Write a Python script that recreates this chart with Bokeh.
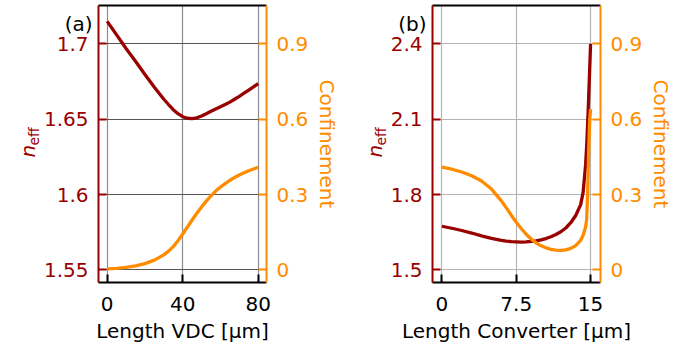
import math
from bokeh.plotting import figure
from bokeh.models import Range1d, LinearAxis, FixedTicker, Label
from bokeh.layouts import row
from bokeh.embed import file_html
from bokeh.resources import INLINE

# ---------------- data ----------------
# Panel (a): vertical directional coupler (VDC)
len_vdc = [0, 5, 10, 15, 20, 25, 30, 32.5, 35, 37.5, 40, 42.5, 45, 47.5, 50,
           52.5, 55, 57.5, 60, 62.5, 65, 67.5, 70, 72.5, 75, 77.5, 80]
neff_vdc = [1.715, 1.706, 1.697, 1.6885, 1.6797, 1.6713, 1.6633, 1.6598,
            1.6564, 1.6537, 1.6517, 1.6507, 1.6505, 1.6510, 1.6522, 1.6537,
            1.6553, 1.6568, 1.6583, 1.6598, 1.6614, 1.6633, 1.6652, 1.6673,
            1.6694, 1.6715, 1.6737]
conf_vdc = [0.004, 0.006, 0.010, 0.016, 0.025, 0.039, 0.060, 0.075, 0.093,
            0.116, 0.143, 0.171, 0.199, 0.226, 0.251, 0.274, 0.295, 0.314,
            0.330, 0.344, 0.357, 0.368, 0.378, 0.387, 0.395, 0.402, 0.409]

# Panel (b): converter
len_conv = [0, 1, 2, 3, 4, 5, 6, 6.5, 7, 7.5, 8, 8.5, 9, 9.5, 10, 10.5, 11,
            11.5, 12, 12.5, 13, 13.5, 14, 14.25, 14.5, 14.6, 14.7, 14.8,
            14.9, 15]
neff_conv = [1.674, 1.666, 1.657, 1.647, 1.636, 1.626, 1.618, 1.615, 1.613,
             1.612, 1.611, 1.612, 1.614, 1.616, 1.620, 1.625, 1.632, 1.641,
             1.652, 1.667, 1.688, 1.717, 1.760, 1.81, 1.92, 1.99, 2.08, 2.18,
             2.29, 2.40]
conf_conv = [0.409, 0.401, 0.390, 0.375, 0.354, 0.322, 0.275, 0.247, 0.218,
             0.19, 0.165, 0.142, 0.123, 0.108, 0.096, 0.088, 0.082, 0.079,
             0.078, 0.080, 0.086, 0.097, 0.118, 0.138, 0.172, 0.20, 0.30,
             0.46, 0.59, 0.64]

# ticks
xticks_a = [0, 40, 80]
xlabels_a = ["0", "40", "80"]
yticks_a = [1.55, 1.6, 1.65, 1.7]
ylabels_a = ["1.55", "1.6", "1.65", "1.7"]
xticks_b = [0, 7.5, 15]
xlabels_b = ["0", "7.5", "15"]
yticks_b = [1.5, 1.8, 2.1, 2.4]
ylabels_b = ["1.5", "1.8", "2.1", "2.4"]
cticks = [0, 0.3, 0.6, 0.9]
clabels = ["0", "0.3", "0.6", "0.9"]

RED = "#990000"
ORANGE = "#ff8c00"
FONT = "DejaVu Sans"
FS = "20px"
FRAME_W = 168
FRAME_H = 277
TOP = 5


def style_axis(ax, color, ticks, labels, standoff):
    ax.ticker = FixedTicker(ticks=ticks)
    ax.major_label_overrides = {t: s for t, s in zip(ticks, labels)}
    ax.axis_line_color = color
    ax.axis_line_width = 2
    ax.major_tick_line_color = color
    ax.major_tick_line_width = 2
    ax.major_tick_in = 8
    ax.major_tick_out = 0
    ax.minor_tick_line_color = None
    ax.major_label_text_color = color
    ax.major_label_text_font = FONT
    ax.major_label_text_font_size = FS
    ax.major_label_standoff = standoff
    ax.axis_label_text_font = FONT
    ax.axis_label_text_font_size = FS
    ax.axis_label_text_font_style = "normal"
    ax.axis_label_text_color = color


def make_panel(xs, neff, conf, xr, yr_left, yr_conf, xt, xl, yt, yl,
               xlabel, tag, n_px, tag_px, dark_grid):
    # helpers converting offsets (px from frame left / top) into data units
    def dx(px):
        return xr[0] + px * (xr[1] - xr[0]) / FRAME_W

    def dy(py):
        return yr_left[1] - py * (yr_left[1] - yr_left[0]) / FRAME_H

    p = figure(frame_width=FRAME_W, frame_height=FRAME_H,
               output_backend="svg", toolbar_location=None,
               x_range=Range1d(*xr), y_range=Range1d(*yr_left),
               min_border_left=0, min_border_right=79,
               min_border_top=TOP, min_border_bottom=0)
    p.extra_y_ranges = {"conf": Range1d(*yr_conf)}
    p.outline_line_color = None
    p.background_fill_color = "white"
    p.border_fill_color = None

    style_axis(p.xaxis[0], "black", xt, xl, 14)
    p.xaxis[0].axis_label = xlabel
    p.xaxis[0].axis_label_standoff = 5

    style_axis(p.yaxis[0], RED, yt, yl, 10)

    right = LinearAxis(y_range_name="conf")
    style_axis(right, ORANGE, cticks, clabels, 10)
    right.axis_label = "Confinement"
    right.axis_label_standoff = 4
    p.add_layout(right, "right")

    top = LinearAxis(ticker=FixedTicker(ticks=[]))
    top.axis_line_color = "black"
    top.axis_line_width = 2
    top.major_tick_line_color = None
    top.minor_tick_line_color = None
    top.major_label_text_font_size = "0px"
    top.major_label_standoff = 0
    p.add_layout(top, "above")

    p.xgrid.ticker = FixedTicker(ticks=xt)
    p.ygrid.ticker = FixedTicker(ticks=yt)
    if dark_grid:
        p.xgrid.grid_line_color = "#8c8c8c"
        p.ygrid.grid_line_color = "#555555"
    else:
        p.xgrid.grid_line_color = "#b4b4b4"
        p.ygrid.grid_line_color = "#b4b4b4"
    p.xgrid.grid_line_width = 1.2
    p.ygrid.grid_line_width = 1.2

    p.line(xs, neff, line_color=RED, line_width=3.3)
    p.line(xs, conf, line_color=ORANGE, line_width=3.3, y_range_name="conf")

    # y-axis label n_eff (italic n with subscript eff), rotated; placed in
    # the left side panel so that it is not clipped to the frame
    p.add_layout(Label(x=dx(n_px), y=dy(157 - TOP),
                       text="n", angle=math.pi / 2, text_color=RED,
                       text_font=FONT, text_font_size="20px",
                       text_font_style="italic", text_align="left",
                       text_baseline="alphabetic"), "left")
    p.add_layout(Label(x=dx(n_px + 6), y=dy(145 - TOP),
                       text="eff", angle=math.pi / 2, text_color=RED,
                       text_font=FONT, text_font_size="14px",
                       text_align="left", text_baseline="alphabetic"), "left")
    p.add_layout(Label(x=dx(tag_px), y=dy(23 - TOP),
                       text=tag, text_color="black", text_font=FONT,
                       text_font_size=FS, text_align="right",
                       text_baseline="alphabetic"), "left")
    return p


pa = make_panel(len_vdc, neff_vdc, conf_vdc, (-4.6, 84.4),
                (1.5417, 1.7255), (-0.05, 1.053), xticks_a, xlabels_a,
                yticks_a, ylabels_a, "Length VDC [μm]", "(a)",
                27 - 98, 92 - 98, True)
pb = make_panel(len_conv, neff_conv, conf_conv, (-0.95, 16.0),
                (1.45, 2.553), (-0.05, 1.053), xticks_b, xlabels_b,
                yticks_b, ylabels_b, "Length Converter [μm]", "(b)",
                375.5 - 433, 427 - 433, False)

# the side-panel labels widen the left borders; pull the figures back so the
# frames sit where they do in the reference
pa.margin = (0, 0, 0, -28)
pb.margin = (0, 0, 0, -26)

layout = row(pa, pb)
open("out.html", "w").write(file_html(layout, INLINE))
